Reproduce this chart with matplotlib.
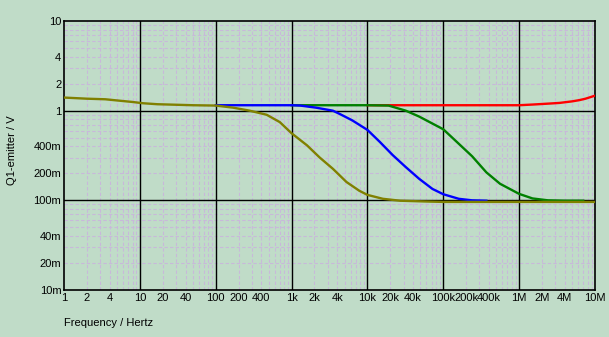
import matplotlib
matplotlib.use("Agg")
import matplotlib.pyplot as plt

# values (frequency in Hz, voltage in V)
f_olive = [1, 2, 3.5, 5, 8, 11, 17, 50, 100, 170, 280, 470, 700, 1000, 1600,
           2350, 3500, 5300, 7800, 10e3, 16e3, 27e3, 60e3, 1e5, 1e6, 1e7]
v_olive = [1.40, 1.36, 1.34, 1.30, 1.25, 1.21, 1.18, 1.15, 1.14, 1.08, 1.0,
           0.90, 0.745, 0.56, 0.41, 0.30, 0.225, 0.16, 0.128, 0.115, 0.104,
           0.099, 0.097, 0.096, 0.096, 0.096]

f_blue = [100, 1000, 1300, 2100, 3500, 4300, 6300, 10e3, 14.5e3, 21.5e3, 32e3,
          48e3, 72e3, 1e5, 1.6e5, 2.4e5, 3.7e5]
v_blue = [1.15, 1.15, 1.14, 1.08, 1.0, 0.92, 0.78, 0.61, 0.45, 0.32, 0.235,
          0.174, 0.134, 0.117, 0.104, 0.100, 0.099]

f_green = [1000, 10e3, 19e3, 32e3, 48e3, 1e5, 1.5e5, 2.4e5, 3.7e5, 5.6e5, 1e6,
           1.5e6, 2.4e6, 4e6, 7e6]
v_green = [1.15, 1.15, 1.14, 1.0, 0.86, 0.62, 0.45, 0.31, 0.205, 0.153, 0.118,
           0.105, 0.100, 0.099, 0.099]

f_red = [10e3, 1e6, 1.5e6, 2.5e6, 3.4e6, 5e6, 6.2e6, 7.5e6, 1e7]
v_red = [1.15, 1.15, 1.17, 1.20, 1.22, 1.27, 1.31, 1.36, 1.47]

x_ticks = [1, 2, 4, 10, 20, 40, 100, 200, 400, 1e3, 2e3, 4e3, 1e4, 2e4, 4e4,
           1e5, 2e5, 4e5, 1e6, 2e6, 4e6, 1e7]
x_labels = ["1", "2", "4", "10", "20", "40", "100", "200", "400", "1k", "2k",
            "4k", "10k", "20k", "40k", "100k", "200k", "400k", "1M", "2M",
            "4M", "10M"]
y_ticks = [10, 4, 2, 1, 0.4, 0.2, 0.1, 0.04, 0.02, 0.01]
y_labels = ["10", "4", "2", "1", "400m", "200m", "100m", "40m", "20m", "10m"]

BG = "#c0dcc8"
plt.rcParams["font.family"] = ["Liberation Sans", "DejaVu Sans"]

fig = plt.figure(figsize=(6.09, 3.37), dpi=100, facecolor=BG)
ax = fig.add_axes([64 / 609, 1 - 290 / 337, 531 / 609, 269 / 337], facecolor=BG)
ax.set_xscale("log"); ax.set_yscale("log")
ax.set_xlim(1, 1e7); ax.set_ylim(0.01, 10)

# faint dashed minor grid, black decade lines on top
for d in range(0, 7):
    for m in range(2, 10):
        ax.axvline(m * 10 ** d, color="#c8b8da", ls=(0, (3, 2)), lw=0.8, zorder=0.5)
for d in range(-2, 1):
    for m in range(2, 10):
        ax.axhline(m * 10 ** d, color="#c8b8da", ls=(0, (3, 2)), lw=0.8, zorder=0.5)
for d in range(1, 7):
    ax.axvline(10 ** d, color="k", lw=1.0, zorder=1)
for v in [1, 0.1]:
    ax.axhline(v, color="k", lw=1.0, zorder=1)

ax.plot(f_red, v_red, color="#ff0000", lw=1.7, zorder=3)
ax.plot(f_green, v_green, color="#008000", lw=1.7, zorder=3)
ax.plot(f_blue, v_blue, color="#0000ff", lw=1.7, zorder=3)
ax.plot(f_olive, v_olive, color="#808000", lw=1.7, zorder=3)

ax.minorticks_off()
ax.set_xticks(x_ticks); ax.set_xticklabels(x_labels)
ax.set_yticks(y_ticks); ax.set_yticklabels(y_labels)
ax.tick_params(which="both", length=0, labelsize=8, pad=2)
for s in ax.spines.values():
    s.set_color("k"); s.set_linewidth(1.2)

fig.text(12 / 609, 1 - 150 / 337, "Q1-emitter / V", rotation=90, fontsize=8,
         ha="center", va="center")
fig.text(64 / 609, 1 - 323 / 337, "Frequency / Hertz", fontsize=8,
         ha="left", va="center")

fig.savefig("out.png", dpi=100, facecolor=BG)
